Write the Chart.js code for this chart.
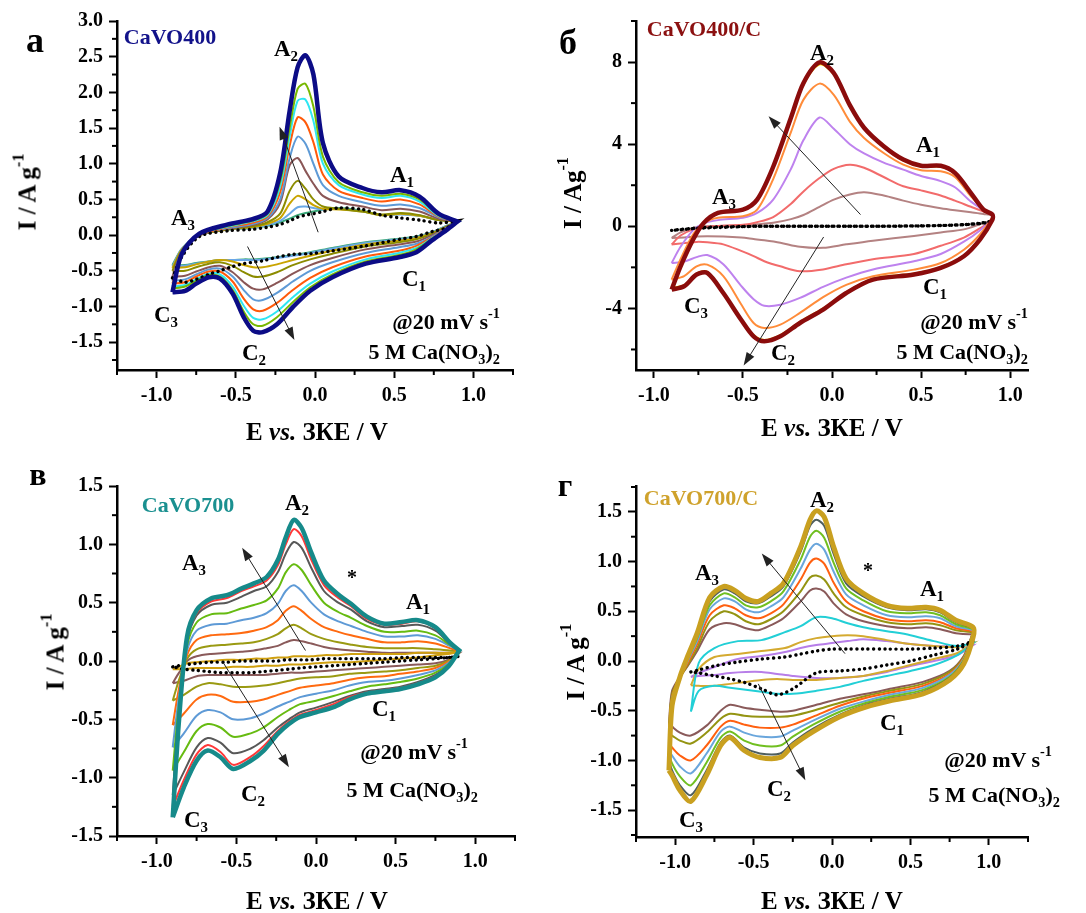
<!DOCTYPE html>
<html lang="uk">
<head>
<meta charset="UTF-8">
<title>ЦВА CaVO400 / CaVO700</title>
<script src="https://cdn.jsdelivr.net/npm/chart.js"></script>
<style>
  body { margin: 0; background: #fff; }
  #wrap { position: relative; width: 1086px; height: 913px; overflow: hidden;
          font-family: 'Liberation Serif', 'Times New Roman', serif; font-weight: bold; }
  canvas { position: absolute; }
  .t { position: absolute; white-space: nowrap; line-height: 1; font-size: 23px; color: #000;
       transform: translate(-50%, -50%); }
  .r { transform: translate(-100%, -50%); font-size: 22px; }
  .rot { transform: translate(-50%, -50%) rotate(-90deg); font-size: 25px; }
  .ax { font-size: 25px; }
  .big { font-size: 36px; }
  sub, sup { font-size: 0.65em; line-height: 0; }
  sub { vertical-align: -0.35em; }
  sup { vertical-align: 0.75em; }
</style>
</head>
<body>
<div id="wrap">
  <canvas id="ca" width="540" height="455" style="left:0;top:0"></canvas>
  <canvas id="cb" width="546" height="455" style="left:540px;top:0"></canvas>
  <canvas id="cc" width="540" height="458" style="left:0;top:455px"></canvas>
  <canvas id="cd" width="546" height="458" style="left:540px;top:455px"></canvas>

  <!-- а -->
  <div class="t big" style="left:35px;top:40px">а</div>
  <div class="t" style="left:170px;top:37px;font-size:22px;color:#12128a">CaVO400</div>
  <div class="t" style="left:286px;top:48px">A<sub>2</sub></div>
  <div class="t" style="left:402px;top:174px">A<sub>1</sub></div>
  <div class="t" style="left:183px;top:217px">A<sub>3</sub></div>
  <div class="t" style="left:414px;top:278px">C<sub>1</sub></div>
  <div class="t" style="left:166px;top:314px">C<sub>3</sub></div>
  <div class="t" style="left:254px;top:352px">C<sub>2</sub></div>
  <div class="t r" style="left:500px;top:322px">@20 mV s<sup>-1</sup></div>
  <div class="t r" style="left:500px;top:352px">5 M Ca(NO<sub>3</sub>)<sub>2</sub></div>
  <div class="t rot" style="left:27px;top:192px">I / A g<sup>-1</sup></div>
  <div class="t ax" style="left:317px;top:431px">E <i>vs.</i> ЗКЕ / V</div>

  <!-- б -->
  <div class="t big" style="left:568px;top:42px">б</div>
  <div class="t" style="left:704px;top:29px;font-size:22px;color:#8b1010">CaVO400/C</div>
  <div class="t" style="left:822px;top:52px">A<sub>2</sub></div>
  <div class="t" style="left:928px;top:144px">A<sub>1</sub></div>
  <div class="t" style="left:724px;top:196px">A<sub>3</sub></div>
  <div class="t" style="left:935px;top:286px">C<sub>1</sub></div>
  <div class="t" style="left:696px;top:305px">C<sub>3</sub></div>
  <div class="t" style="left:783px;top:352px">C<sub>2</sub></div>
  <div class="t r" style="left:1028px;top:322px">@20 mV s<sup>-1</sup></div>
  <div class="t r" style="left:1028px;top:352px">5 M Ca(NO<sub>3</sub>)<sub>2</sub></div>
  <div class="t rot" style="left:572px;top:193px">I / Ag<sup>-1</sup></div>
  <div class="t ax" style="left:832px;top:427px">E <i>vs.</i> ЗКЕ / V</div>

  <!-- в -->
  <div class="t big" style="left:38px;top:474px;font-size:32px">в</div>
  <div class="t" style="left:188px;top:505px;font-size:22px;color:#1a9090">CaVO700</div>
  <div class="t" style="left:297px;top:502px">A<sub>2</sub></div>
  <div class="t" style="left:194px;top:562px">A<sub>3</sub></div>
  <div class="t" style="left:352px;top:577px;font-size:20px">*</div>
  <div class="t" style="left:418px;top:601px">A<sub>1</sub></div>
  <div class="t" style="left:384px;top:708px">C<sub>1</sub></div>
  <div class="t" style="left:253px;top:793px">C<sub>2</sub></div>
  <div class="t" style="left:196px;top:819px">C<sub>3</sub></div>
  <div class="t r" style="left:468px;top:752px">@20 mV s<sup>-1</sup></div>
  <div class="t r" style="left:478px;top:790px">5 M Ca(NO<sub>3</sub>)<sub>2</sub></div>
  <div class="t rot" style="left:55px;top:652px">I / A g<sup>-1</sup></div>
  <div class="t ax" style="left:317px;top:900px">E <i>vs.</i> ЗКЕ / V</div>

  <!-- г -->
  <div class="t big" style="left:565px;top:485px;font-size:32px">г</div>
  <div class="t" style="left:701px;top:498px;font-size:22px;color:#cfa22c">CaVO700/C</div>
  <div class="t" style="left:822px;top:499px">A<sub>2</sub></div>
  <div class="t" style="left:707px;top:572px">A<sub>3</sub></div>
  <div class="t" style="left:868px;top:570px;font-size:20px">*</div>
  <div class="t" style="left:932px;top:588px">A<sub>1</sub></div>
  <div class="t" style="left:892px;top:722px">C<sub>1</sub></div>
  <div class="t" style="left:779px;top:788px">C<sub>2</sub></div>
  <div class="t" style="left:691px;top:819px">C<sub>3</sub></div>
  <div class="t r" style="left:1052px;top:760px">@20 mV s<sup>-1</sup></div>
  <div class="t r" style="left:1060px;top:795px">5 M Ca(NO<sub>3</sub>)<sub>2</sub></div>
  <div class="t rot" style="left:575px;top:662px">I / A g<sup>-1</sup></div>
  <div class="t ax" style="left:832px;top:900px">E <i>vs.</i> ЗКЕ / V</div>
</div>

<script>
// ---------- tick labels ----------
const X_TICKS = [-1.0, -0.5, 0, 0.5, 1.0];
const A_Y_TICKS = [-1.5, -1.0, -0.5, 0, 0.5, 1.0, 1.5, 2.0, 2.5, 3.0];
const B_Y_TICKS = [-4, 0, 4, 8];
const C_Y_TICKS = [-1.5, -1.0, -0.5, 0, 0.5, 1.0, 1.5];
const D_Y_TICKS = [-1.5, -1.0, -0.5, 0, 0.5, 1.0, 1.5];

// ---------- а: CaVO400 (E in V, I in A/g) ----------
const A_E_UP = [-0.9, -0.84, -0.73, -0.55, -0.4, -0.3, -0.22, -0.16, -0.11, -0.06, -0.01, 0.05, 0.15, 0.3, 0.42, 0.54, 0.66, 0.78, 0.9];
const A_E_DN = [0.9, 0.83, 0.74, 0.64, 0.53, 0.32, 0.11, -0.03, -0.14, -0.24, -0.33, -0.39, -0.45, -0.52, -0.6, -0.67, -0.75, -0.82, -0.9];
const a_navy_up = [-0.80, -0.26, 0.02, 0.15, 0.22, 0.33, 0.87, 1.74, 2.35, 2.52, 2.25, 1.29, 0.82, 0.66, 0.60, 0.63, 0.54, 0.30, 0.19];
const a_navy_dn = [0.19, 0.07, -0.07, -0.24, -0.31, -0.40, -0.59, -0.78, -1.01, -1.25, -1.36, -1.34, -1.15, -0.82, -0.61, -0.59, -0.68, -0.78, -0.80];
const a_green_up = [-0.75, -0.25, 0.01, 0.13, 0.20, 0.30, 0.75, 1.50, 2.05, 2.12, 1.80, 1.10, 0.74, 0.60, 0.55, 0.58, 0.50, 0.28, 0.19];
const a_green_dn = [0.19, 0.08, -0.05, -0.20, -0.28, -0.37, -0.55, -0.73, -0.94, -1.15, -1.27, -1.25, -1.07, -0.77, -0.58, -0.56, -0.64, -0.72, -0.75];
const a_cyan_up = [-0.72, -0.25, 0.01, 0.12, 0.19, 0.28, 0.68, 1.38, 1.88, 1.90, 1.60, 1.00, 0.70, 0.57, 0.52, 0.55, 0.47, 0.27, 0.19];
const a_cyan_dn = [0.19, 0.08, -0.04, -0.18, -0.25, -0.34, -0.51, -0.68, -0.87, -1.07, -1.18, -1.16, -0.99, -0.72, -0.55, -0.54, -0.62, -0.70, -0.72];
const a_orange_up = [-0.68, -0.24, 0.00, 0.11, 0.17, 0.26, 0.60, 1.25, 1.65, 1.58, 1.30, 0.85, 0.62, 0.52, 0.47, 0.50, 0.43, 0.26, 0.19];
const a_orange_dn = [0.19, 0.09, -0.03, -0.15, -0.22, -0.30, -0.45, -0.60, -0.77, -0.95, -1.06, -1.04, -0.89, -0.65, -0.51, -0.51, -0.58, -0.66, -0.68];
const a_steel_up = [-0.64, -0.23, 0.00, 0.10, 0.15, 0.24, 0.50, 1.08, 1.38, 1.28, 1.00, 0.70, 0.55, 0.46, 0.41, 0.43, 0.38, 0.25, 0.19];
const a_steel_dn = [0.19, 0.10, -0.02, -0.12, -0.17, -0.25, -0.38, -0.50, -0.65, -0.81, -0.91, -0.90, -0.77, -0.58, -0.47, -0.48, -0.55, -0.62, -0.64];
const a_brown_up = [-0.58, -0.22, 0.00, 0.09, 0.14, 0.22, 0.45, 0.98, 1.08, 0.90, 0.72, 0.55, 0.46, 0.40, 0.35, 0.37, 0.33, 0.23, 0.19];
const a_brown_dn = [0.19, 0.11, 0.00, -0.09, -0.13, -0.20, -0.32, -0.42, -0.54, -0.67, -0.76, -0.75, -0.66, -0.52, -0.43, -0.45, -0.51, -0.57, -0.58];
const a_olive_up = [-0.50, -0.21, 0.00, 0.08, 0.12, 0.18, 0.30, 0.62, 0.76, 0.65, 0.50, 0.40, 0.37, 0.33, 0.29, 0.31, 0.28, 0.21, 0.19];
const a_olive_dn = [0.19, 0.12, 0.02, -0.06, -0.10, -0.16, -0.26, -0.34, -0.42, -0.52, -0.58, -0.58, -0.52, -0.43, -0.38, -0.40, -0.45, -0.50, -0.50];
const a_gold_up = [-0.46, -0.20, 0.00, 0.08, 0.11, 0.16, 0.24, 0.44, 0.55, 0.50, 0.42, 0.37, 0.36, 0.33, 0.28, 0.30, 0.27, 0.21, 0.19];
const a_gold_dn = [0.19, 0.12, 0.03, -0.04, -0.08, -0.13, -0.22, -0.29, -0.35, -0.41, -0.45, -0.45, -0.42, -0.37, -0.35, -0.37, -0.41, -0.45, -0.46];
const a_lblue_up = [-0.44, -0.19, 0.00, 0.08, 0.10, 0.14, 0.20, 0.30, 0.39, 0.40, 0.38, 0.36, 0.37, 0.33, 0.28, 0.29, 0.27, 0.21, 0.19];
const a_lblue_dn = [0.19, 0.13, 0.04, -0.03, -0.06, -0.11, -0.19, -0.25, -0.29, -0.32, -0.34, -0.35, -0.35, -0.35, -0.35, -0.37, -0.40, -0.43, -0.44];
const a_sea_up = [-0.42, -0.19, 0.00, 0.08, 0.10, 0.13, 0.18, 0.23, 0.28, 0.31, 0.33, 0.36, 0.38, 0.34, 0.28, 0.30, 0.27, 0.21, 0.19];
const a_sea_dn = [0.19, 0.13, 0.04, -0.02, -0.05, -0.10, -0.18, -0.24, -0.28, -0.31, -0.33, -0.34, -0.34, -0.35, -0.35, -0.37, -0.39, -0.42, -0.42];
const a_dot_up = [-0.60, -0.30, -0.02, 0.06, 0.08, 0.11, 0.15, 0.20, 0.25, 0.28, 0.30, 0.33, 0.38, 0.36, 0.28, 0.24, 0.21, 0.17, 0.20];
const a_dot_dn = [0.20, 0.10, 0.05, -0.02, -0.06, -0.15, -0.22, -0.26, -0.27, -0.31, -0.36, -0.38, -0.40, -0.44, -0.50, -0.55, -0.62, -0.66, -0.60];

// ---------- б: CaVO400/C ----------
const B_E_UP = [-0.9, -0.85, -0.78, -0.72, -0.64, -0.5, -0.42, -0.33, -0.23, -0.16, -0.07, 0.01, 0.1, 0.18, 0.29, 0.4, 0.5, 0.61, 0.69, 0.78, 0.85, 0.9];
const B_E_DN = [0.9, 0.83, 0.74, 0.61, 0.46, 0.23, 0.08, -0.05, -0.18, -0.29, -0.38, -0.44, -0.51, -0.61, -0.7, -0.76, -0.83, -0.9];
const b_red_up = [-3.08, -1.95, -0.65, 0.16, 0.65, 0.81, 1.3, 2.9, 5.3, 6.98, 7.98, 7.47, 5.9, 4.8, 3.9, 3.25, 2.95, 2.95, 2.6, 1.62, 0.81, 0.57];
const b_red_dn = [0.32, -0.65, -1.46, -2.03, -2.35, -2.6, -3.25, -4.06, -4.71, -5.36, -5.6, -5.36, -4.55, -3.25, -2.27, -2.35, -2.92, -3.08];
const b_yellow_up = [-3.0, -1.9, -0.62, 0.17, 0.64, 0.8, 1.28, 2.85, 5.2, 6.9, 7.88, 7.4, 5.85, 4.75, 3.85, 3.2, 2.9, 2.9, 2.55, 1.6, 0.8, 0.57];
const b_yellow_dn = [0.35, -0.62, -1.42, -1.98, -2.3, -2.55, -3.2, -4.0, -4.65, -5.3, -5.54, -5.3, -4.5, -3.2, -2.22, -2.3, -2.87, -3.0];
const b_orange_up = [-2.6, -1.6, -0.4, 0.16, 0.42, 0.49, 0.81, 2.3, 4.6, 6.17, 6.95, 6.4, 5.1, 4.3, 3.57, 3.0, 2.73, 2.68, 2.4, 1.46, 0.81, 0.57];
const b_orange_dn = [0.45, -0.4, -1.14, -1.79, -2.11, -2.43, -2.85, -3.45, -4.22, -4.79, -4.95, -4.71, -3.8, -2.43, -1.87, -1.95, -2.43, -2.6];
const b_violet_up = [-1.79, -1.0, -0.2, 0.14, 0.3, 0.42, 0.65, 1.3, 2.8, 4.2, 5.3, 4.75, 4.0, 3.55, 3.1, 2.76, 2.45, 2.2, 1.9, 1.2, 0.8, 0.57];
const b_violet_dn = [0.4, -0.2, -0.75, -1.35, -1.7, -2.1, -2.5, -2.95, -3.49, -3.82, -3.87, -3.55, -2.9, -1.85, -1.4, -1.5, -1.72, -1.79];
const b_salmon_up = [-0.89, -0.45, -0.15, -0.05, 0.02, 0.07, 0.2, 0.45, 1.1, 1.7, 2.35, 2.8, 3.0, 2.85, 2.4, 1.95, 1.75, 1.5, 1.25, 0.95, 0.72, 0.57];
const b_salmon_dn = [0.32, -0.1, -0.55, -0.95, -1.35, -1.6, -1.85, -2.1, -2.19, -1.95, -1.7, -1.45, -1.2, -0.88, -0.78, -0.76, -0.82, -0.89];
const b_rosy_up = [-0.57, -0.3, -0.08, 0.0, 0.02, 0.05, 0.1, 0.17, 0.35, 0.55, 0.95, 1.3, 1.55, 1.66, 1.5, 1.25, 1.05, 0.88, 0.78, 0.68, 0.6, 0.52];
const b_rosy_dn = [0.32, 0.1, -0.15, -0.3, -0.47, -0.7, -0.88, -1.05, -1.0, -0.8, -0.68, -0.62, -0.55, -0.5, -0.49, -0.5, -0.54, -0.57];
const b_dot_up = [-0.2, -0.15, -0.1, -0.06, -0.03, -0.01, 0, 0, 0, 0, 0, 0, 0, 0, 0, 0.01, 0.02, 0.04, 0.06, 0.1, 0.15, 0.25];
const b_dot_dn = [0.25, 0.15, 0.08, 0.04, 0.02, 0.0, 0.0, 0.0, 0.0, 0.0, 0.0, 0.0, -0.02, -0.05, -0.08, -0.1, -0.15, -0.2];

// ---------- в: CaVO700 ----------
const C_E_UP = [-0.9, -0.86, -0.81, -0.75, -0.66, -0.56, -0.47, -0.39, -0.31, -0.24, -0.19, -0.14, -0.09, -0.03, 0.05, 0.14, 0.22, 0.32, 0.43, 0.54, 0.64, 0.75, 0.84, 0.9];
const C_E_DN = [0.9, 0.83, 0.75, 0.64, 0.53, 0.43, 0.32, 0.21, 0.11, 0.0, -0.1, -0.17, -0.24, -0.33, -0.41, -0.52, -0.6, -0.68, -0.75, -0.83, -0.9];
const c_teal_up = [-1.34, -0.5, 0.21, 0.435, 0.536, 0.564, 0.62, 0.665, 0.72, 0.865, 1.06, 1.21, 1.14, 0.93, 0.69, 0.57, 0.49, 0.38, 0.32, 0.335, 0.35, 0.29, 0.16, 0.09];
const c_teal_dn = [0.09, -0.05, -0.14, -0.2, -0.24, -0.26, -0.28, -0.33, -0.395, -0.44, -0.48, -0.54, -0.625, -0.77, -0.855, -0.925, -0.825, -0.768, -0.855, -1.083, -1.34];
const c_red_up = [-1.25, -0.46, 0.19, 0.41, 0.51, 0.54, 0.6, 0.64, 0.69, 0.82, 1.0, 1.13, 1.07, 0.87, 0.65, 0.54, 0.47, 0.36, 0.31, 0.32, 0.34, 0.28, 0.15, 0.09];
const c_red_dn = [0.09, -0.05, -0.13, -0.19, -0.23, -0.25, -0.27, -0.31, -0.37, -0.42, -0.46, -0.52, -0.6, -0.73, -0.82, -0.89, -0.78, -0.72, -0.8, -1.02, -1.25];
const c_gray_up = [-1.15, -0.42, 0.17, 0.39, 0.48, 0.5, 0.55, 0.6, 0.64, 0.76, 0.92, 1.02, 0.97, 0.8, 0.6, 0.5, 0.44, 0.34, 0.29, 0.3, 0.31, 0.26, 0.15, 0.09];
const c_gray_dn = [0.09, -0.04, -0.12, -0.18, -0.22, -0.24, -0.26, -0.3, -0.35, -0.4, -0.44, -0.5, -0.57, -0.68, -0.75, -0.79, -0.7, -0.66, -0.74, -0.95, -1.15];
const c_green_up = [-0.94, -0.36, 0.13, 0.33, 0.4, 0.41, 0.45, 0.48, 0.52, 0.62, 0.76, 0.83, 0.78, 0.65, 0.5, 0.42, 0.37, 0.3, 0.25, 0.25, 0.26, 0.22, 0.14, 0.09];
const c_green_dn = [0.08, -0.03, -0.1, -0.15, -0.18, -0.2, -0.22, -0.26, -0.3, -0.34, -0.37, -0.42, -0.48, -0.57, -0.62, -0.65, -0.57, -0.54, -0.6, -0.78, -0.94];
const c_steel_up = [-0.74, -0.3, 0.09, 0.26, 0.31, 0.32, 0.35, 0.37, 0.41, 0.49, 0.6, 0.65, 0.6, 0.5, 0.4, 0.34, 0.3, 0.25, 0.21, 0.21, 0.22, 0.19, 0.13, 0.09];
const c_steel_dn = [0.08, -0.02, -0.08, -0.12, -0.15, -0.17, -0.18, -0.21, -0.25, -0.28, -0.31, -0.35, -0.39, -0.45, -0.49, -0.5, -0.44, -0.42, -0.47, -0.62, -0.74];
const c_orange_up = [-0.55, -0.23, 0.05, 0.18, 0.22, 0.23, 0.24, 0.26, 0.29, 0.35, 0.43, 0.47, 0.43, 0.36, 0.29, 0.25, 0.22, 0.19, 0.16, 0.16, 0.17, 0.15, 0.11, 0.08];
const c_orange_dn = [0.07, -0.01, -0.06, -0.09, -0.11, -0.13, -0.14, -0.16, -0.19, -0.21, -0.23, -0.26, -0.29, -0.33, -0.35, -0.35, -0.3, -0.29, -0.33, -0.45, -0.55];
const c_olive_up = [-0.34, -0.16, 0.02, 0.1, 0.13, 0.14, 0.15, 0.16, 0.19, 0.23, 0.28, 0.31, 0.28, 0.23, 0.19, 0.16, 0.14, 0.12, 0.11, 0.11, 0.11, 0.1, 0.09, 0.08];
const c_olive_dn = [0.07, 0.0, -0.04, -0.06, -0.08, -0.09, -0.1, -0.11, -0.13, -0.14, -0.15, -0.17, -0.19, -0.21, -0.22, -0.22, -0.2, -0.19, -0.22, -0.29, -0.34];
const c_brown_up = [-0.19, -0.1, 0.0, 0.04, 0.06, 0.07, 0.08, 0.09, 0.11, 0.13, 0.16, 0.18, 0.17, 0.15, 0.12, 0.1, 0.09, 0.08, 0.07, 0.07, 0.07, 0.07, 0.07, 0.07];
const c_brown_dn = [0.07, 0.01, -0.02, -0.03, -0.04, -0.05, -0.06, -0.07, -0.08, -0.09, -0.1, -0.1, -0.11, -0.12, -0.12, -0.12, -0.12, -0.12, -0.13, -0.17, -0.19];
const c_gold_up = [-0.07, -0.05, -0.02, -0.01, 0.0, 0.01, 0.01, 0.02, 0.02, 0.03, 0.03, 0.04, 0.04, 0.04, 0.05, 0.05, 0.06, 0.06, 0.06, 0.06, 0.07, 0.07, 0.07, 0.08];
const c_gold_dn = [0.08, 0.06, 0.05, 0.03, 0.02, 0.01, 0.0, -0.01, -0.01, -0.02, -0.03, -0.03, -0.04, -0.04, -0.05, -0.05, -0.06, -0.06, -0.06, -0.07, -0.07];
const c_dot_up = [-0.05, -0.04, -0.03, -0.02, -0.01, -0.01, 0.0, 0.0, 0.0, 0.0, 0.01, 0.01, 0.01, 0.01, 0.02, 0.02, 0.02, 0.02, 0.02, 0.03, 0.03, 0.03, 0.03, 0.04];
const c_dot_dn = [0.04, 0.03, 0.02, 0.01, 0.0, -0.01, -0.02, -0.03, -0.04, -0.05, -0.06, -0.07, -0.08, -0.09, -0.1, -0.1, -0.1, -0.09, -0.08, -0.07, -0.05];

// ---------- г: CaVO700/C ----------
const D_E_UP = [-1.04, -1.02, -0.97, -0.92, -0.86, -0.78, -0.69, -0.62, -0.55, -0.47, -0.39, -0.31, -0.2, -0.14, -0.1, -0.05, 0.01, 0.09, 0.2, 0.35, 0.48, 0.6, 0.69, 0.79, 0.9];
const D_E_DN = [0.9, 0.84, 0.75, 0.58, 0.37, 0.22, 0.05, -0.12, -0.25, -0.33, -0.46, -0.56, -0.65, -0.71, -0.8, -0.9, -0.97, -1.02, -1.04];
const d_gold_up = [-1.1, -0.45, -0.16, 0.05, 0.28, 0.64, 0.75, 0.71, 0.63, 0.6, 0.68, 0.78, 1.15, 1.42, 1.51, 1.45, 1.15, 0.83, 0.68, 0.56, 0.53, 0.54, 0.51, 0.41, 0.34];
const d_gold_dn = [0.24, -0.03, -0.19, -0.33, -0.4, -0.46, -0.56, -0.71, -0.85, -0.97, -0.97, -0.9, -0.77, -0.85, -1.15, -1.41, -1.3, -1.15, -1.1];
const d_slate_up = [-1.0, -0.42, -0.17, 0.03, 0.26, 0.6, 0.72, 0.68, 0.6, 0.58, 0.65, 0.75, 1.1, 1.36, 1.42, 1.36, 1.08, 0.78, 0.65, 0.54, 0.51, 0.52, 0.49, 0.39, 0.33];
const d_slate_dn = [0.26, 0.0, -0.17, -0.31, -0.38, -0.44, -0.54, -0.68, -0.82, -0.93, -0.93, -0.87, -0.75, -0.82, -1.1, -1.35, -1.25, -1.1, -1.0];
const d_green_up = [-0.93, -0.4, -0.17, 0.02, 0.23, 0.56, 0.68, 0.64, 0.56, 0.54, 0.6, 0.7, 1.02, 1.25, 1.31, 1.24, 0.99, 0.73, 0.61, 0.5, 0.48, 0.49, 0.46, 0.37, 0.32];
const d_green_dn = [0.27, 0.01, -0.16, -0.29, -0.36, -0.42, -0.51, -0.64, -0.76, -0.85, -0.85, -0.8, -0.71, -0.77, -1.02, -1.25, -1.16, -1.03, -0.93];
const d_steel_up = [-0.9, -0.38, -0.17, 0.0, 0.2, 0.52, 0.63, 0.6, 0.52, 0.49, 0.55, 0.64, 0.93, 1.12, 1.18, 1.12, 0.9, 0.67, 0.56, 0.46, 0.44, 0.45, 0.43, 0.35, 0.31];
const d_steel_dn = [0.28, 0.02, -0.14, -0.27, -0.34, -0.4, -0.48, -0.6, -0.7, -0.76, -0.76, -0.72, -0.66, -0.71, -0.93, -1.13, -1.06, -0.95, -0.9];
const d_orange_up = [-0.83, -0.36, -0.17, -0.02, 0.17, 0.46, 0.56, 0.53, 0.46, 0.43, 0.48, 0.57, 0.82, 0.99, 1.03, 0.98, 0.79, 0.6, 0.5, 0.42, 0.4, 0.41, 0.39, 0.33, 0.3];
const d_orange_dn = [0.28, 0.03, -0.13, -0.25, -0.32, -0.37, -0.45, -0.56, -0.64, -0.67, -0.67, -0.64, -0.6, -0.66, -0.85, -1.0, -0.95, -0.87, -0.83];
const d_olive_up = [-0.73, -0.33, -0.17, -0.04, 0.13, 0.4, 0.5, 0.47, 0.4, 0.37, 0.42, 0.5, 0.7, 0.84, 0.86, 0.82, 0.68, 0.54, 0.46, 0.39, 0.37, 0.38, 0.36, 0.31, 0.29];
const d_olive_dn = [0.29, 0.04, -0.11, -0.23, -0.3, -0.35, -0.42, -0.5, -0.55, -0.56, -0.56, -0.55, -0.53, -0.58, -0.72, -0.83, -0.8, -0.75, -0.73];
const d_brown_up = [-0.63, -0.3, -0.16, -0.05, 0.1, 0.32, 0.38, 0.37, 0.33, 0.31, 0.36, 0.43, 0.6, 0.71, 0.73, 0.7, 0.58, 0.47, 0.4, 0.35, 0.33, 0.34, 0.32, 0.28, 0.27];
const d_brown_dn = [0.29, 0.05, -0.1, -0.21, -0.28, -0.33, -0.38, -0.45, -0.5, -0.51, -0.49, -0.47, -0.44, -0.5, -0.65, -0.75, -0.72, -0.66, -0.63];
// inner loops of г start at -0.9 V
const D2_E_UP = [-0.9, -0.85, -0.75, -0.6, -0.45, -0.3, -0.2, -0.1, 0.0, 0.1, 0.2, 0.35, 0.5, 0.65, 0.8, 0.9];
const D2_E_DN = [0.9, 0.8, 0.65, 0.5, 0.35, 0.2, 0.05, -0.1, -0.25, -0.35, -0.45, -0.55, -0.65, -0.75, -0.85, -0.9];
const d_cyan_up = [-0.51, -0.02, 0.13, 0.2, 0.21, 0.29, 0.35, 0.44, 0.43, 0.38, 0.34, 0.3, 0.26, 0.2, 0.15, 0.18];
const d_cyan_dn = [0.18, 0.06, -0.04, -0.1, -0.15, -0.2, -0.26, -0.3, -0.33, -0.33, -0.31, -0.29, -0.27, -0.25, -0.3, -0.51];
const d_goldthin_up = [-0.245, -0.08, 0.04, 0.07, 0.1, 0.13, 0.19, 0.23, 0.25, 0.26, 0.25, 0.21, 0.17, 0.15, 0.14, 0.18];
const d_goldthin_dn = [0.18, 0.08, 0.02, -0.04, -0.1, -0.15, -0.17, -0.19, -0.19, -0.18, -0.19, -0.21, -0.23, -0.25, -0.25, -0.245];
const d_violet_up = [-0.16, -0.12, -0.06, 0.02, 0.05, 0.09, 0.13, 0.16, 0.18, 0.2, 0.22, 0.2, 0.17, 0.15, 0.15, 0.16];
const d_violet_dn = [0.16, 0.06, 0.0, -0.05, -0.11, -0.15, -0.17, -0.17, -0.15, -0.13, -0.11, -0.11, -0.12, -0.14, -0.15, -0.16];
const d_dot_up = [-0.11, -0.09, -0.05, -0.01, 0.02, 0.04, 0.07, 0.1, 0.12, 0.12, 0.12, 0.12, 0.12, 0.13, 0.15, 0.2];
const d_dot_dn = [0.2, 0.12, 0.06, 0.0, -0.04, -0.08, -0.1, -0.12, -0.28, -0.34, -0.28, -0.22, -0.18, -0.15, -0.12, -0.11];

// annotation arrows [E0, I0, E1, I1] (tail -> head)
const A_ARROWS = [[0.02, 0.04, -0.224, 1.52], [-0.426, -0.16, -0.13, -1.47]];
const B_ARROWS = [[0.16, 0.57, -0.356, 5.36], [-0.047, -0.52, -0.496, -6.78]];
const C_ARROWS = [[-0.066, 0.09, -0.464, 0.97], [-0.58, -0.02, -0.17, -0.91]];
const D_ARROWS = [[0.083, 0.074, -0.448, 1.08], [-0.47, -0.23, -0.17, -1.2]];

// ---------- helpers ----------
Chart.defaults.font.family = "'Liberation Serif', 'Times New Roman', serif";
Chart.defaults.font.weight = 'bold';
Chart.defaults.font.size = 20;
Chart.defaults.color = '#000';

function loop(eUp, up, eDn, dn) {
    const pts = [];
    eUp.forEach((e, k) => pts.push({ x: e, y: up[k] }));
    eDn.forEach((e, k) => pts.push({ x: e, y: dn[k] }));
    return pts;
}

function line(pts, color, width) {
    return { data: pts, showLine: true, borderColor: color, borderWidth: width || 2,
             pointRadius: 0, fill: false, tension: 0.3 };
}

function dotted(pts) {
    return { data: pts, showLine: true, borderColor: '#000', borderWidth: 3.4,
             borderDash: [0.1, 5.5], borderCapStyle: 'round',
             pointRadius: 0, fill: false, tension: 0.3 };
}

function minorOf(majors, min, max) {
    const step = majors[1] - majors[0];
    const out = [];
    for (let v = majors[0] - step / 2; v <= max + 1e-9; v += step) {
        if (v >= min - 1e-9) out.push(v);
    }
    return out;
}

function drawArrow(ctx, x0, y0, x1, y1) {
    const ang = Math.atan2(y1 - y0, x1 - x0);
    const L = 13, W = 4.5;
    ctx.beginPath();
    ctx.moveTo(x0, y0);
    ctx.lineTo(x1 - Math.cos(ang) * L * 0.8, y1 - Math.sin(ang) * L * 0.8);
    ctx.stroke();
    ctx.beginPath();
    ctx.moveTo(x1, y1);
    ctx.lineTo(x1 - Math.cos(ang) * L + Math.sin(ang) * W, y1 - Math.sin(ang) * L - Math.cos(ang) * W);
    ctx.lineTo(x1 - Math.cos(ang) * L - Math.sin(ang) * W, y1 - Math.sin(ang) * L + Math.cos(ang) * W);
    ctx.closePath();
    ctx.fill();
}

function makeChart(id, p) {
    const xMinor = minorOf(X_TICKS, p.xMin, p.xMax);
    const yMinor = minorOf(p.yTicks, p.yMin, p.yMax);
    const extras = {
        id: 'extras',
        afterDraw(chart) {
            const ctx = chart.ctx, a = chart.chartArea;
            const sx = chart.scales.x, sy = chart.scales.y;
            ctx.save();
            ctx.strokeStyle = '#000';
            ctx.lineWidth = 2;
            xMinor.forEach(v => {
                const px = sx.getPixelForValue(v);
                ctx.beginPath(); ctx.moveTo(px, a.bottom); ctx.lineTo(px, a.bottom + 5); ctx.stroke();
            });
            yMinor.forEach(v => {
                const py = sy.getPixelForValue(v);
                ctx.beginPath(); ctx.moveTo(a.left, py); ctx.lineTo(a.left - 5, py); ctx.stroke();
            });
            ctx.strokeStyle = '#222';
            ctx.fillStyle = '#222';
            ctx.lineWidth = 1;
            p.arrows.forEach(r => {
                drawArrow(ctx, sx.getPixelForValue(r[0]), sy.getPixelForValue(r[1]),
                          sx.getPixelForValue(r[2]), sy.getPixelForValue(r[3]));
            });
            ctx.restore();
        }
    };
    return new Chart(document.getElementById(id), {
        type: 'scatter',
        data: { datasets: p.datasets },
        options: {
            responsive: false,
            animation: false,
            devicePixelRatio: 1,
            layout: { padding: p.pad },
            plugins: { legend: { display: false }, tooltip: { enabled: false } },
            scales: {
                x: {
                    type: 'linear', min: p.xMin, max: p.xMax,
                    afterBuildTicks: s => { s.ticks = X_TICKS.map(v => ({ value: v })); },
                    afterFit: s => { s.height = p.xHeight; },
                    ticks: { padding: 6, autoSkip: false, maxRotation: 0,
                             callback: v => v.toFixed(1) },
                    grid: { drawOnChartArea: false, tickLength: 8, tickWidth: 2, color: '#000' },
                    border: { color: '#000', width: 2.5 }
                },
                y: {
                    type: 'linear', min: p.yMin, max: p.yMax,
                    afterBuildTicks: s => { s.ticks = p.yTicks.map(v => ({ value: v })); },
                    afterFit: s => { s.width = p.yWidth; },
                    ticks: { padding: 6, autoSkip: false, callback: p.yFmt },
                    grid: { drawOnChartArea: false, tickLength: 8, tickWidth: 2, color: '#000' },
                    border: { color: '#000', width: 2.5 }
                }
            }
        },
        plugins: [extras]
    });
}

const one = v => v.toFixed(1);

// а
makeChart('ca', {
    xMin: -1.25, xMax: 1.25, yMin: -1.89, yMax: 3.0, yTicks: A_Y_TICKS, yFmt: one,
    yWidth: 117, xHeight: 85, pad: { top: 21, right: 27, left: 0, bottom: 0 }, arrows: A_ARROWS,
    datasets: [
        line(loop(A_E_UP, a_navy_up, A_E_DN, a_navy_dn), '#0c0c86', 4.5),
        dotted(loop(A_E_UP, a_dot_up, A_E_DN, a_dot_dn)),
        line(loop(A_E_UP, a_green_up, A_E_DN, a_green_dn), '#78b800'),
        line(loop(A_E_UP, a_cyan_up, A_E_DN, a_cyan_dn), '#2ee6f2'),
        line(loop(A_E_UP, a_orange_up, A_E_DN, a_orange_dn), '#ff5a0a'),
        line(loop(A_E_UP, a_steel_up, A_E_DN, a_steel_dn), '#5e9ad6'),
        line(loop(A_E_UP, a_brown_up, A_E_DN, a_brown_dn), '#8a5656'),
        line(loop(A_E_UP, a_olive_up, A_E_DN, a_olive_dn), '#8c8c00'),
        line(loop(A_E_UP, a_gold_up, A_E_DN, a_gold_dn), '#c9a400'),
        line(loop(A_E_UP, a_lblue_up, A_E_DN, a_lblue_dn), '#6aa8e6'),
        line(loop(A_E_UP, a_sea_up, A_E_DN, a_sea_dn), '#3aa878')
    ]
});

// б
makeChart('cb', {
    xMin: -1.1, xMax: 1.1, yMin: -7.0, yMax: 10.0, yTicks: B_Y_TICKS, yFmt: v => String(v),
    yWidth: 96, xHeight: 85, pad: { top: 21, right: 58, left: 0, bottom: 0 }, arrows: B_ARROWS,
    datasets: [
        line(loop(B_E_UP, b_red_up, B_E_DN, b_red_dn), '#8b0c0c', 4.5),
        dotted(loop(B_E_UP, b_dot_up, B_E_DN, b_dot_dn)),
        line(loop(B_E_UP, b_yellow_up, B_E_DN, b_yellow_dn), '#ffd700', 2),
        line(loop(B_E_UP, b_orange_up, B_E_DN, b_orange_dn), '#ff8c3a', 2),
        line(loop(B_E_UP, b_violet_up, B_E_DN, b_violet_dn), '#be82ee', 2),
        line(loop(B_E_UP, b_salmon_up, B_E_DN, b_salmon_dn), '#f26b6b', 2),
        line(loop(B_E_UP, b_rosy_up, B_E_DN, b_rosy_dn), '#b48282', 2)
    ]
});

// в
makeChart('cc', {
    xMin: -1.25, xMax: 1.25, yMin: -1.5, yMax: 1.5, yTicks: C_Y_TICKS, yFmt: one,
    yWidth: 117, xHeight: 77, pad: { top: 31, right: 25, left: 0, bottom: 0 }, arrows: C_ARROWS,
    datasets: [
        line(loop(C_E_UP, c_teal_up, C_E_DN, c_teal_dn), '#168a8a', 4.5),
        dotted(loop(C_E_UP, c_dot_up, C_E_DN, c_dot_dn)),
        line(loop(C_E_UP, c_gold_up, C_E_DN, c_gold_dn), '#d0a010', 2),
        line(loop(C_E_UP, c_red_up, C_E_DN, c_red_dn), '#ff3838'),
        line(loop(C_E_UP, c_gray_up, C_E_DN, c_gray_dn), '#585858'),
        line(loop(C_E_UP, c_green_up, C_E_DN, c_green_dn), '#66bb11'),
        line(loop(C_E_UP, c_steel_up, C_E_DN, c_steel_dn), '#5e9ad6'),
        line(loop(C_E_UP, c_orange_up, C_E_DN, c_orange_dn), '#ff6a10'),
        line(loop(C_E_UP, c_olive_up, C_E_DN, c_olive_dn), '#9a9a12'),
        line(loop(C_E_UP, c_brown_up, C_E_DN, c_brown_dn), '#8a5a5a')
    ]
});

// г
makeChart('cd', {
    xMin: -1.25, xMax: 1.25, yMin: -1.77, yMax: 1.76, yTicks: D_Y_TICKS, yFmt: one,
    yWidth: 96, xHeight: 76, pad: { top: 31, right: 58, left: 0, bottom: 0 }, arrows: D_ARROWS,
    datasets: [
        line(loop(D_E_UP, d_gold_up, D_E_DN, d_gold_dn), '#c9a020', 5),
        dotted(loop(D2_E_UP, d_dot_up, D2_E_DN, d_dot_dn)),
        line(loop(D_E_UP, d_slate_up, D_E_DN, d_slate_dn), '#4f5f5f'),
        line(loop(D_E_UP, d_green_up, D_E_DN, d_green_dn), '#70bf20'),
        line(loop(D_E_UP, d_steel_up, D_E_DN, d_steel_dn), '#6aa6dc'),
        line(loop(D_E_UP, d_orange_up, D_E_DN, d_orange_dn), '#ff6010'),
        line(loop(D_E_UP, d_olive_up, D_E_DN, d_olive_dn), '#949412'),
        line(loop(D_E_UP, d_brown_up, D_E_DN, d_brown_dn), '#8a5a5a'),
        line(loop(D2_E_UP, d_cyan_up, D2_E_DN, d_cyan_dn), '#22cfd6'),
        line(loop(D2_E_UP, d_goldthin_up, D2_E_DN, d_goldthin_dn), '#d4aa30'),
        line(loop(D2_E_UP, d_violet_up, D2_E_DN, d_violet_dn), '#b77ee8')
    ]
});
</script>
</body>
</html>
